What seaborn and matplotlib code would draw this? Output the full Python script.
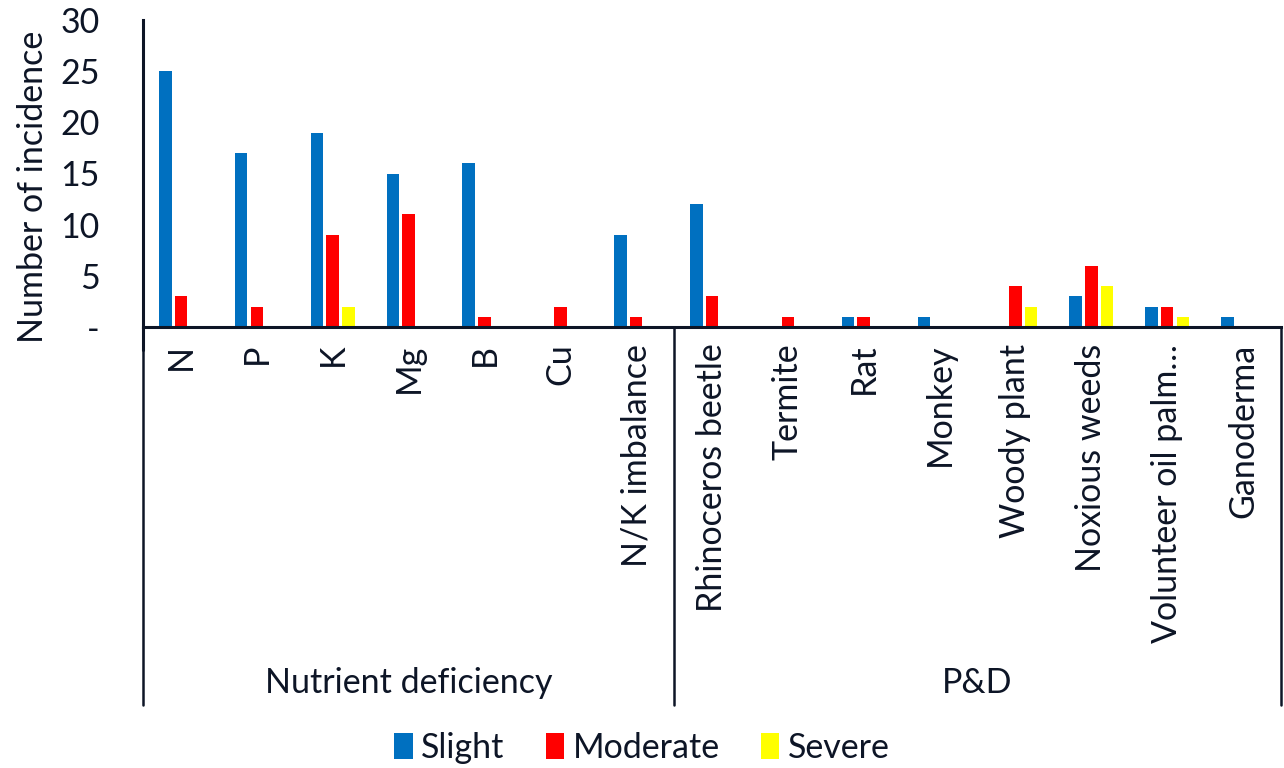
import matplotlib
matplotlib.use("Agg")
import matplotlib.pyplot as plt
import seaborn as sns
import pandas as pd
from matplotlib.patches import Patch

categories = ["N", "P", "K", "Mg", "B", "Cu", "N/K imbalance",
              "Rhinoceros beetle", "Termite", "Rat", "Monkey", "Woody plant",
              "Noxious weeds", "Volunteer oil palm…", "Ganoderma"]
groups = ["Nutrient deficiency", "P&D"]
group_sizes = [7, 8]
slight = [25, 17, 19, 15, 16, 0, 9, 12, 0, 1, 1, 0, 3, 2, 1]
moderate = [3, 2, 9, 11, 1, 2, 1, 3, 1, 1, 0, 4, 6, 2, 0]
severe = [0, 0, 2, 0, 0, 0, 0, 0, 0, 0, 0, 2, 4, 1, 0]
series = ["Slight", "Moderate", "Severe"]
colors = ["#0070C0", "#FF0000", "#FFFF00"]
yticks = [0, 5, 10, 15, 20, 25, 30]
ytick_labels = ["-", "5", "10", "15", "20", "25", "30"]

rows = []
for s, vals in zip(series, [slight, moderate, severe]):
    for c, v in zip(categories, vals):
        rows.append({"cat": c, "val": v, "sev": s})
df = pd.DataFrame(rows)

sns.set_theme(style="white")
plt.rcParams['font.family'] = ['Lato', 'DejaVu Sans']
textc = "#0d1526"
fs = 24.5

fig = plt.figure(figsize=(12.84, 7.68), dpi=100)
ax = fig.add_axes([143/1284, 1-327/768, (1281-143)/1284, 307/768])
sns.barplot(data=df, x="cat", y="val", hue="sev", order=categories,
            hue_order=series, palette=colors, saturation=1, width=0.62, gap=0.2,
            linewidth=0, ax=ax, legend=False)
ax.set_xlim(-0.5, len(categories)-0.5)
ax.set_ylim(0, 30)
ax.set_yticks(yticks)
ax.set_yticklabels(ytick_labels, fontsize=fs, color=textc)
ax.set_xticks(range(len(categories)))
ax.set_xticklabels(categories, rotation=90, fontsize=fs, color=textc)
ax.tick_params(axis='x', length=0, pad=12)
ax.tick_params(axis='y', length=0, pad=31)
ax.set_xlabel("")
ax.set_ylabel("Number of incidence", fontsize=fs, color=textc, labelpad=8)
ax.yaxis.label.set_y((327-187)/307)
for sp in ["top", "right"]:
    ax.spines[sp].set_visible(False)
ax.spines["left"].set_color(textc)
ax.spines["left"].set_linewidth(2.2)
ax.spines["bottom"].set_color(textc)
ax.spines["bottom"].set_linewidth(2.2)
ax.spines["bottom"].set_bounds(-0.5, len(categories)-0.5)

tr = ax.get_xaxis_transform()
# y-axis extension below the axis
ax.plot([-0.5, -0.5], [0, -23/307], transform=tr, color=textc, lw=2.2, clip_on=False)
# separators
bottom_frac = (327-705)/307
pos = -0.5
seps = [pos]
for g in group_sizes:
    pos += g
    seps.append(pos)
for xs in seps:
    ax.plot([xs, xs], [0, bottom_frac], transform=tr, color=textc, lw=1.8, clip_on=False)
# group labels
for i, g in enumerate(groups):
    mid = (seps[i] + seps[i+1]) / 2
    ax.text(mid, (327-683)/307, g, transform=tr, ha='center', va='center',
            fontsize=fs, color=textc)

handles = [Patch(facecolor=c, edgecolor='none', label=s) for s, c in zip(series, colors)]
fig.legend(handles=handles, loc='center', bbox_to_anchor=(642/1284, 1-748/768),
           ncol=3, frameon=False, fontsize=fs, handlelength=0.55, handleheight=0.8,
           handletextpad=0.25, columnspacing=1.2, labelcolor=textc)

fig.savefig("out.png", dpi=100)
